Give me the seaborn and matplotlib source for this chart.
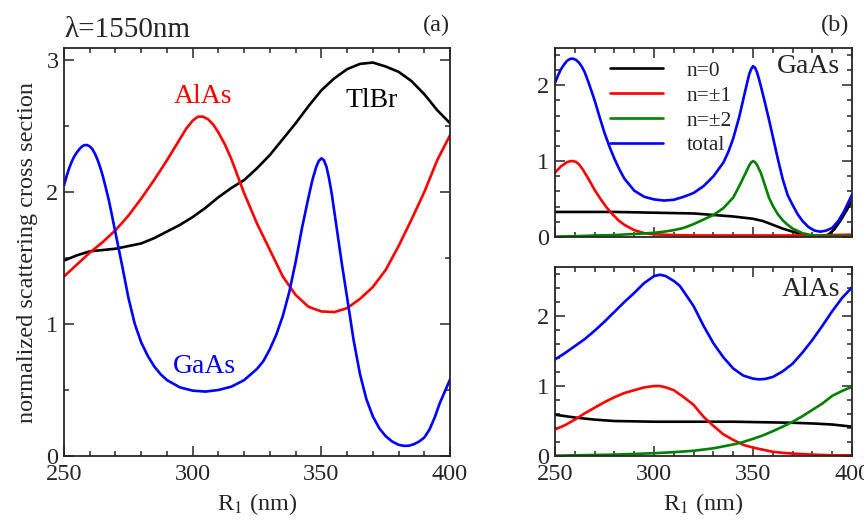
import matplotlib
matplotlib.use("Agg")
import matplotlib.pyplot as plt
import seaborn as sns
from matplotlib.ticker import MultipleLocator

# ---- panel (a): normalized scattering cross section vs R1 ----
r_tlbr = [250, 255, 260, 265, 270, 275, 280, 285, 290, 295, 300, 305, 310, 315, 320,
          325, 330, 335, 340, 345, 350, 355, 360, 365, 370, 375, 380, 385, 390, 395, 400]
s_tlbr = [1.48, 1.52, 1.55, 1.56, 1.57, 1.59, 1.61, 1.65, 1.70, 1.75, 1.81, 1.88, 1.96, 2.03, 2.09,
          2.18, 2.28, 2.40, 2.52, 2.65, 2.77, 2.86, 2.93, 2.97, 2.98, 2.95, 2.91, 2.84, 2.74, 2.62, 2.52]

r_alas = [250, 255, 260, 265, 270, 275, 280, 285, 290, 295, 297.5, 300, 302, 304, 306, 308, 310,
          312.5, 315, 317.5, 320, 325, 330, 335, 340, 345, 350, 355, 360, 365, 370, 375, 380,
          385, 390, 395, 400]
s_alas = [1.36, 1.45, 1.54, 1.62, 1.71, 1.82, 1.95, 2.09, 2.24, 2.40, 2.48, 2.54, 2.57, 2.57, 2.55, 2.51, 2.45,
          2.36, 2.25, 2.12, 1.99, 1.76, 1.56, 1.36, 1.22, 1.13, 1.095, 1.09, 1.12, 1.19, 1.28, 1.41, 1.59,
          1.79, 2.00, 2.24, 2.43]

r_gaas = [250, 251, 252, 253, 254, 255, 256, 257, 258, 259, 260, 261, 262, 263, 264, 265, 266,
          267.5, 270, 272.5, 275, 277.5, 280, 282.5, 285, 287.5, 290, 295, 300, 305, 310, 315, 320,
          325, 327.5, 330, 332.5, 335, 337.5, 340, 342.5, 345, 346.5, 348, 349, 350, 351, 352, 353,
          354, 356, 358, 360, 362.5, 365, 367.5, 370, 372.5, 375, 377.5, 380, 382, 384, 386, 388,
          390, 392, 394, 396, 398, 400]
s_gaas = [2.05, 2.12, 2.18, 2.23, 2.27, 2.30, 2.325, 2.345, 2.355, 2.355, 2.345, 2.325, 2.29, 2.245, 2.19, 2.125, 2.05,
          1.93, 1.69, 1.45, 1.20, 1.00, 0.86, 0.76, 0.68, 0.62, 0.575, 0.52, 0.495, 0.488, 0.50, 0.525, 0.575,
          0.66, 0.72, 0.81, 0.92, 1.06, 1.24, 1.47, 1.73, 1.96, 2.09, 2.19, 2.235, 2.255, 2.24, 2.19, 2.10,
          1.99, 1.72, 1.45, 1.20, 0.88, 0.62, 0.43, 0.30, 0.21, 0.15, 0.11, 0.085, 0.077, 0.078, 0.09, 0.11,
          0.14, 0.20, 0.29, 0.40, 0.49, 0.58]

# ---- panel (b), GaAs: partial contributions ----
g_r0 = [250, 260, 270, 280, 290, 300, 310, 320, 330, 340, 350, 355, 360, 365, 370, 375, 380,
        385, 388, 391, 394, 397, 400]
g_n0 = [0.33, 0.33, 0.33, 0.33, 0.325, 0.32, 0.315, 0.31, 0.29, 0.27, 0.24, 0.21, 0.16, 0.11, 0.07,
        0.035, 0.015, 0.01, 0.03, 0.10, 0.21, 0.34, 0.48]
g_r1 = [250, 253, 256, 257.5, 259, 260.5, 262, 264, 267, 270, 273, 276, 279, 282, 285, 290, 295,
        300, 310, 320, 340, 360, 380, 390, 400]
g_n1 = [0.85, 0.93, 0.985, 0.998, 1.0, 0.99, 0.96, 0.89, 0.76, 0.62, 0.50, 0.39, 0.30, 0.22, 0.16,
        0.09, 0.05, 0.035, 0.025, 0.02, 0.02, 0.02, 0.02, 0.025, 0.03]
g_r2 = [250, 260, 270, 280, 290, 300, 305, 310, 315, 320, 325, 330, 335, 340, 343, 346, 348,
        349, 350, 351, 352, 354, 356, 358, 360, 362.5, 365, 367.5, 370, 372.5, 375, 380, 390, 400]
g_n2 = [0.005, 0.01, 0.02, 0.025, 0.04, 0.055, 0.07, 0.09, 0.12, 0.17, 0.23, 0.29, 0.38, 0.52, 0.67,
        0.83, 0.94, 0.98, 1.0, 0.985, 0.95, 0.84, 0.68, 0.52, 0.41, 0.30, 0.22, 0.16, 0.11, 0.08, 0.05,
        0.02, 0.01, 0.01]
g_rt = [250, 251.5, 253, 254.5, 256, 257.5, 259, 260.5, 262, 263.5, 265, 267, 270, 272.5, 275,
        277.5, 280, 282.5, 285, 290, 295, 300, 305, 310, 315, 320, 325, 330, 335, 337.5, 340, 343,
        346, 348, 349, 350, 351, 352, 353, 354, 356, 358, 360, 362.5, 365, 367.5, 370, 372.5, 375,
        378, 381, 384, 387, 390, 393, 396, 400]
g_tot = [2.03, 2.13, 2.21, 2.27, 2.32, 2.345, 2.35, 2.335, 2.30, 2.245, 2.17, 2.03, 1.80, 1.58, 1.37,
         1.19, 1.03, 0.89, 0.77, 0.61, 0.53, 0.495, 0.48, 0.49, 0.53, 0.58, 0.67, 0.80, 0.98, 1.12, 1.30, 1.58,
         1.92, 2.14, 2.21, 2.25, 2.23, 2.17, 2.08, 1.98, 1.77, 1.55, 1.32, 1.03, 0.76, 0.55, 0.42, 0.30, 0.21,
         0.13, 0.085, 0.07, 0.085, 0.12, 0.21, 0.34, 0.56]

# ---- panel (b), AlAs: partial contributions ----
a_r0 = [250, 260, 270, 280, 290, 300, 320, 340, 360, 370, 380, 390, 400]
a_n0 = [0.59, 0.55, 0.52, 0.50, 0.495, 0.49, 0.49, 0.49, 0.48, 0.475, 0.465, 0.45, 0.42]
a_r1 = [250, 255, 260, 265, 270, 275, 280, 285, 290, 295, 300, 303, 306, 310, 313, 315, 320,
        325, 330, 335, 340, 345, 350, 355, 360, 365, 370, 380, 390, 400]
a_n1 = [0.38, 0.44, 0.52, 0.61, 0.69, 0.77, 0.84, 0.90, 0.94, 0.98, 1.0, 1.0, 0.98, 0.94, 0.88, 0.84, 0.73,
        0.56, 0.43, 0.31, 0.23, 0.16, 0.12, 0.09, 0.06, 0.045, 0.035, 0.02, 0.01, 0.01]
a_r2 = [250, 260, 270, 280, 290, 300, 310, 320, 330, 340, 345, 350, 355, 360, 365, 370, 375,
        380, 385, 390, 395, 400]
a_n2 = [0.005, 0.01, 0.015, 0.02, 0.03, 0.04, 0.055, 0.075, 0.11, 0.165, 0.20, 0.245, 0.295, 0.355,
        0.42, 0.49, 0.57, 0.66, 0.75, 0.86, 0.93, 0.99]
a_rt = [250, 255, 260, 265, 270, 275, 280, 285, 290, 295, 300, 303, 306, 310, 313, 315, 320, 325,
        330, 335, 340, 345, 350, 353, 356, 360, 365, 370, 375, 380, 385, 390, 395, 400]
a_tot = [1.38, 1.47, 1.57, 1.67, 1.79, 1.92, 2.06, 2.20, 2.33, 2.47, 2.57, 2.59, 2.57, 2.50, 2.43, 2.35,
         2.14, 1.86, 1.61, 1.41, 1.25, 1.15, 1.105, 1.095, 1.10, 1.13, 1.21, 1.32, 1.48, 1.66, 1.86, 2.07,
         2.26, 2.41]

BLUE, RED, BLACK, GREEN = "#0000ff", "#ff0000", "#000000", "#008000"
LW = 1.9

sns.set_style("ticks")
plt.rcParams["font.family"] = ["Liberation Serif", "DejaVu Serif"]
plt.rcParams["mathtext.fontset"] = "stix"


def style_axes(ax, ymajor, yminor):
    ax.set_xlim(250, 400)
    ax.xaxis.set_major_locator(MultipleLocator(50))
    ax.xaxis.set_minor_locator(MultipleLocator(10))
    ax.yaxis.set_major_locator(MultipleLocator(ymajor))
    ax.yaxis.set_minor_locator(MultipleLocator(yminor))
    ax.tick_params(which="both", direction="in", top=True, right=True,
                   labelsize=17.5, width=1.1)
    ax.tick_params(axis="x", pad=6)
    ax.tick_params(axis="y", pad=4)
    ax.tick_params(which="major", length=7)
    ax.tick_params(which="minor", length=3.5)
    for s in ax.spines.values():
        s.set_linewidth(1.3)
    ax.set_xlabel("")
    ax.set_ylabel("")


def line(ax, x, y, color, label=None):
    sns.lineplot(x=x, y=y, ax=ax, color=color, linewidth=LW, sort=False,
                 estimator=None, label=label, legend=False)


fig = plt.figure(figsize=(8.64, 5.25), dpi=100)
ax_a = fig.add_axes([0.0741, 0.1314, 0.4468, 0.7771])
ax_b1 = fig.add_axes([0.6424, 0.5486, 0.3438, 0.36])
ax_b2 = fig.add_axes([0.6424, 0.1314, 0.3438, 0.36])

# panel (a)
line(ax_a, r_tlbr, s_tlbr, BLACK)
line(ax_a, r_alas, s_alas, RED)
line(ax_a, r_gaas, s_gaas, BLUE)
style_axes(ax_a, 1, 0.5)
ax_a.set_ylim(0, 3.09)
ax_a.set_xlabel("R$_1$ (nm)", fontsize=17.5, labelpad=4)
ax_a.set_ylabel("normalized scattering cross section", fontsize=17.5, labelpad=6)
ax_a.text(304, 2.72, "AlAs", color=RED, fontsize=20, ha="center", va="center")
ax_a.text(304.5, 0.68, "GaAs", color=BLUE, fontsize=20, ha="center", va="center")
ax_a.text(369.5, 2.69, "TlBr", color=BLACK, fontsize=20, ha="center", va="center")
ax_a.text(0.0, 1.027, "λ=1550nm", transform=ax_a.transAxes, fontsize=21,
          ha="left", va="baseline")
ax_a.text(1.0, 1.042, "(a)", transform=ax_a.transAxes, fontsize=17.5,
          ha="right", va="baseline")

# panel (b) top: GaAs
line(ax_b1, g_r0, g_n0, BLACK, "n=0")
line(ax_b1, g_r1, g_n1, RED, "n=±1")
line(ax_b1, g_r2, g_n2, GREEN, "n=±2")
line(ax_b1, g_rt, g_tot, BLUE, "total")
style_axes(ax_b1, 1, 0.2)
ax_b1.set_ylim(0, 2.49)
ax_b1.tick_params(labelbottom=False)
ax_b1.text(0.96, 0.9, "GaAs", transform=ax_b1.transAxes, fontsize=20,
           ha="right", va="center")
ax_b1.text(0.99, 1.09, "(b)", transform=ax_b1.transAxes, fontsize=17.5,
           ha="right", va="baseline")
handles, labels = ax_b1.get_legend_handles_labels()
ax_b1.legend(handles, labels, loc="upper left", bbox_to_anchor=(0.14, 1.0),
             frameon=False, fontsize=15.5, handlelength=2.5, handletextpad=1.1,
             labelspacing=0.22, borderaxespad=0.2)

# panel (b) bottom: AlAs
line(ax_b2, a_r0, a_n0, BLACK)
line(ax_b2, a_r1, a_n1, RED)
line(ax_b2, a_r2, a_n2, GREEN)
line(ax_b2, a_rt, a_tot, BLUE)
style_axes(ax_b2, 1, 0.2)
ax_b2.set_ylim(0, 2.7)
ax_b2.set_xlabel("R$_1$ (nm)", fontsize=17.5, labelpad=4)
ax_b2.text(0.96, 0.88, "AlAs", transform=ax_b2.transAxes, fontsize=20,
           ha="right", va="center")

fig.savefig("out.png", dpi=100)
